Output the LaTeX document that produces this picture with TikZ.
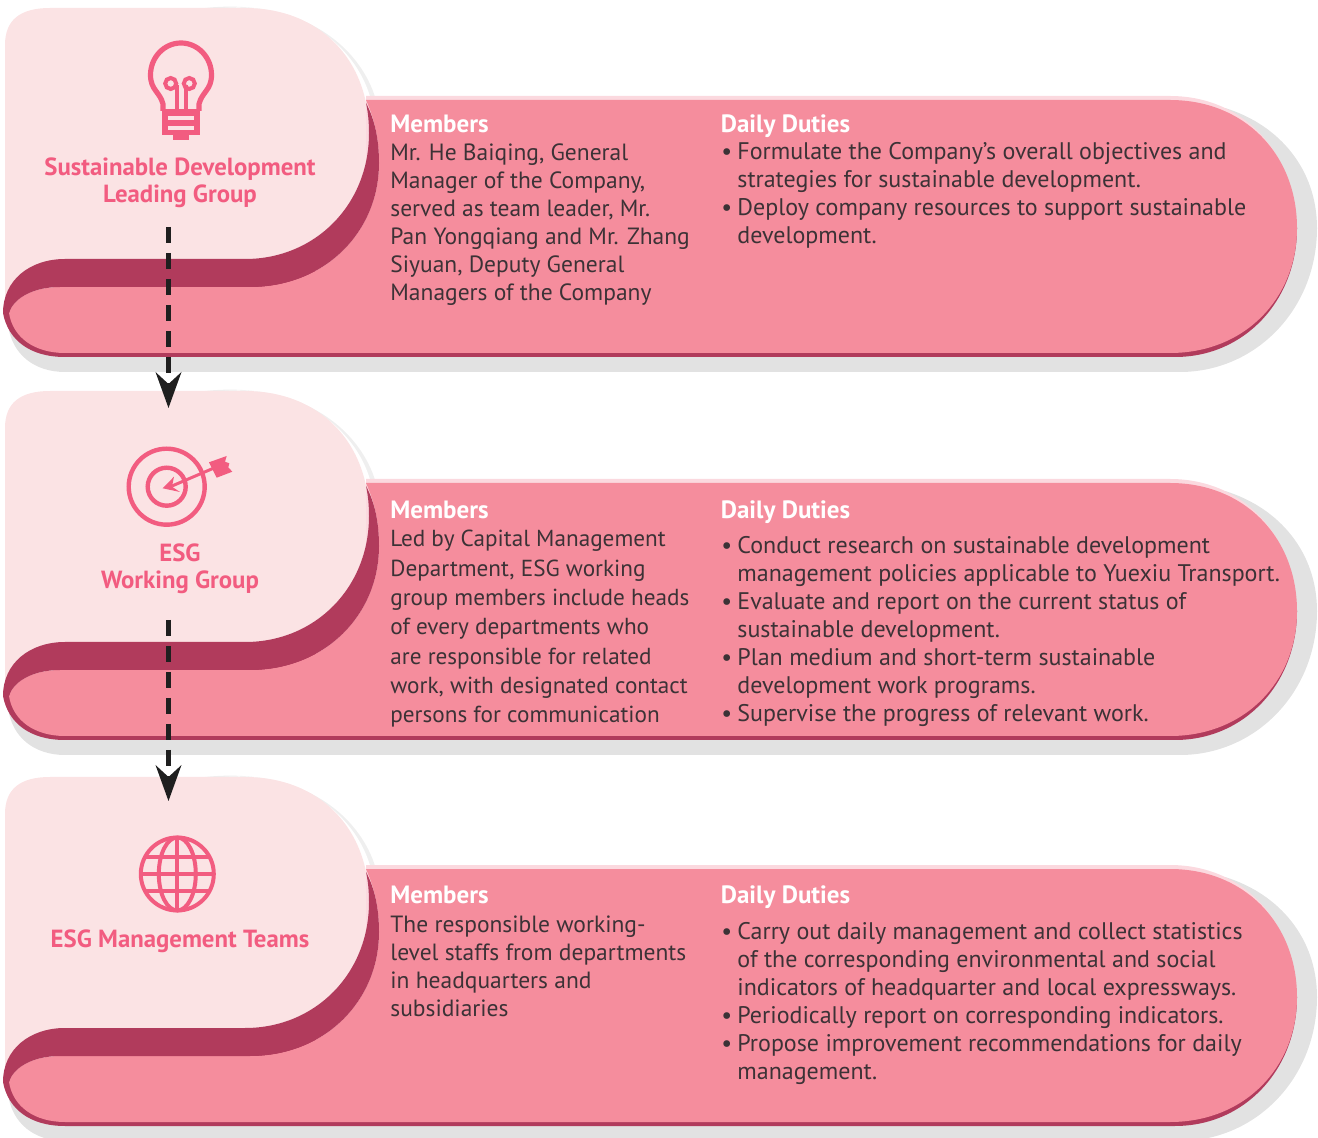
\documentclass[tikz,border=0pt]{standalone}
\usepackage{fontspec}
\setmainfont{PT Sans}
\usetikzlibrary{arrows.meta}
\definecolor{panelpink}{HTML}{FBE3E4}
\definecolor{bandpink}{HTML}{F58D9D}
\definecolor{ribbonred}{HTML}{B13B5C}
\definecolor{stripPink}{HTML}{FBD9DF}
\definecolor{shadowgray}{HTML}{E2E2E2}
\definecolor{iconpink}{HTML}{F25C80}
\definecolor{bodygray}{HTML}{3C3236}
\tikzset{
	grouplabel/.style={font=\fontsize{12.4}{13.6}\selectfont\bfseries,text=iconpink,align=center,inner sep=0pt,anchor=north},
	heading/.style={font=\fontsize{12.5}{14}\selectfont\bfseries,text=white,inner sep=0pt,anchor=north west},
	bodytext/.style={font=\fontsize{11.75}{14}\selectfont,text=bodygray,align=left,inner sep=0pt,anchor=north west},
	bodyloose/.style={bodytext,font=\fontsize{11.6}{14.65}\selectfont},
	dutytext/.style={bodytext,font=\fontsize{12}{14}\selectfont},
	iconline/.style={draw=iconpink,line width=2pt},
	flowline/.style={line width=2.5pt,draw=black!88,dash pattern=on 8pt off 5pt,-{Stealth[length=18pt,width=13pt,inset=6pt,line width=0pt]}},
}
\newcommand{\dutyitem}{\makebox[8pt][l]{•}}
\newcommand{\dutymore}{\hspace*{8pt}}
\begin{document}
\begin{tikzpicture}[x=0.5pt,y=-0.5pt]
	\useasboundingbox (0,0) rectangle (1318,1138);
	\foreach \dy in {0,383,769}{
		\begin{scope}[shift={(0,\dy)}]
			\fill[shadowgray] (1225,108) .. controls (1280,125) and (1317,170) .. (1317,228) .. controls (1317,310) and (1255,372) .. (1180,372) -- (65,372) .. controls (35,372) and (12,355) .. (8,325) -- (1170,200) -- cycle;
			\fill[shadowgray!55] (205,8) .. controls (300,-2) and (360,45) .. (376,100) -- (250,100) -- cycle;
			\fill[white] (225,8) .. controls (305,2) and (358,50) .. (371,100) -- (250,100) -- cycle;
			\fill[panelpink] (5,45) .. controls (5,20) and (20,8) .. (50,8) -- (245,8) .. controls (320,8) and (369,60) .. (369,133) .. controls (369,205) and (315,259) .. (245,259) -- (60,270) -- (5,313) -- cycle;
			\fill[stripPink] (366,96) -- (1170,96) .. controls (1245,96) and (1296,155) .. (1296,228) -- (366,228) -- cycle;
			\fill[ribbonred] (3,313) .. controls (8,340) and (30,357) .. (65,357) -- (1175,357) .. controls (1245,357) and (1297,300) .. (1297,228) -- (1000,228) -- (60,287) -- cycle;
			\fill[bandpink] (366,100) -- (1170,100) .. controls (1245,100) and (1297,155) .. (1297,228) .. controls (1297,298) and (1245,353) .. (1170,353) -- (65,353) .. controls (35,353) and (13,338) .. (9,313) .. controls (14,297) and (35,287) .. (60,287) -- (250,287) .. controls (325,287) and (379,232) .. (379,163) .. controls (379,140) and (375,120) .. (366,100) -- cycle;
			\fill[ribbonred] (366,103) .. controls (375,120) and (379,140) .. (379,163) .. controls (379,232) and (325,287) .. (250,287) -- (60,287) .. controls (35,287) and (14,297) .. (9,313) -- (3,313) .. controls (3,280) and (30,259) .. (65,259) -- (245,259) .. controls (315,259) and (369,205) .. (369,133) .. controls (369,122) and (368,112) .. (366,103) -- cycle;
		\end{scope}
	}
	\draw[iconline,line width=2.6pt] (163,111) -- (163,104) .. controls (160,92) and (150.5,90) .. (150.5,75) arc[start angle=180,end angle=0,x radius=30.5,y radius=-32] .. controls (211.5,90) and (202,92) .. (199,104) -- (199,111);
	\fill[iconpink] (162,109) rectangle (200,135);
	\fill[iconpink] (173,135) rectangle (189,140);
	\fill[panelpink] (168,116) rectangle (194,120.5);
	\fill[panelpink] (168,126) rectangle (194,130);
	\draw[iconline] (170.7,83.5) circle[radius=5.5];
	\draw[iconline] (189.3,83.5) circle[radius=5.5];
	\draw[iconline] (176.5,85) -- (176.5,110);
	\draw[iconline] (185.5,85) -- (185.5,110);
	\draw[iconline,line width=2.2pt] (166.7,486.7) circle[radius=38];
	\draw[iconline,line width=2.2pt] (166.7,486.7) circle[radius=19];
	\draw[iconline,line width=1.5pt] (172,486) -- (214,468);
	\fill[iconpink] (162.7,488.3) -- (174,476.7) -- (172,486.7) -- (180,492) -- cycle;
	\fill[iconpink] (209,462.3) -- (226.7,456) -- (225,461.7) -- (229.3,463.3) -- (228.3,467.3) -- (232.3,471.7) -- (216.7,477.7) -- cycle;
	\draw[iconline] (177.3,874) circle[radius=36.5];
	\draw[iconline] (177.3,874) ellipse[x radius=18.5,y radius=36.5];
	\draw[iconline] (177.3,837.5) -- (177.3,910.5);
	\draw[iconline] (141,874) -- (214,874);
	\draw[iconline] (145.5,856.5) -- (209,856.5);
	\draw[iconline] (145.5,891) -- (209,891);
	\node[grouplabel] (leadinglabel) at (180,157) {Sustainable Development\\Leading Group};
	\node[grouplabel] (workinglabel) at (180,543) {ESG\\Working Group};
	\node[grouplabel] (teamslabel) at (180,929) {ESG Management Teams};
	\node[heading] (membersa) at (390,115) {Members};
	\node[bodytext] (memberstexta) at (390,143) {Mr. He Baiqing, General\\Manager of the Company,\\served as team leader, Mr.\\Pan Yongqiang and Mr. Zhang\\Siyuan, Deputy General\\Managers of the Company};
	\node[heading] (dutiesa) at (720.5,114) {Daily Duties};
	\node[dutytext] (dutiestexta) at (721,142.5) {\dutyitem Formulate the Company’s overall objectives and\\\dutymore strategies for sustainable development.\\\dutyitem Deploy company resources to support sustainable\\\dutymore development.};
	\node[heading] (membersb) at (390,501) {Members};
	\node[bodyloose] (memberstextb) at (390,530) {Led by Capital Management\\Department, ESG working\\group members include heads\\of every departments who\\are responsible for related\\work, with designated contact\\persons for communication};
	\node[heading] (dutiesb) at (720.5,500) {Daily Duties};
	\node[dutytext] (dutiestextb) at (721,536.5) {\dutyitem Conduct research on sustainable development\\\dutymore management policies applicable to Yuexiu Transport.\\\dutyitem Evaluate and report on the current status of\\\dutymore sustainable development.\\\dutyitem Plan medium and short-term sustainable\\\dutymore development work programs.\\\dutyitem Supervise the progress of relevant work.};
	\node[heading] (membersc) at (390,886) {Members};
	\node[bodytext] (memberstextc) at (390,915) {The responsible working-\\level staffs from departments\\in headquarters and\\subsidiaries};
	\node[heading] (dutiesc) at (720.5,885) {Daily Duties};
	\node[dutytext] (dutiestextc) at (721,922.5) {\dutyitem Carry out daily management and collect statistics\\\dutymore of the corresponding environmental and social\\\dutymore indicators of headquarter and local expressways.\\\dutyitem Periodically report on corresponding indicators.\\\dutyitem Propose improvement recommendations for daily\\\dutymore management.};
	\coordinate (leadingend) at (168.5,227);
	\coordinate (workingtop) at (168.5,408);
	\coordinate (workingend) at (168.5,620);
	\coordinate (teamstop) at (168.5,801);
	\draw[flowline] (leadingend) -- (workingtop);
	\draw[flowline] (workingend) -- (teamstop);
\end{tikzpicture}
\end{document}
